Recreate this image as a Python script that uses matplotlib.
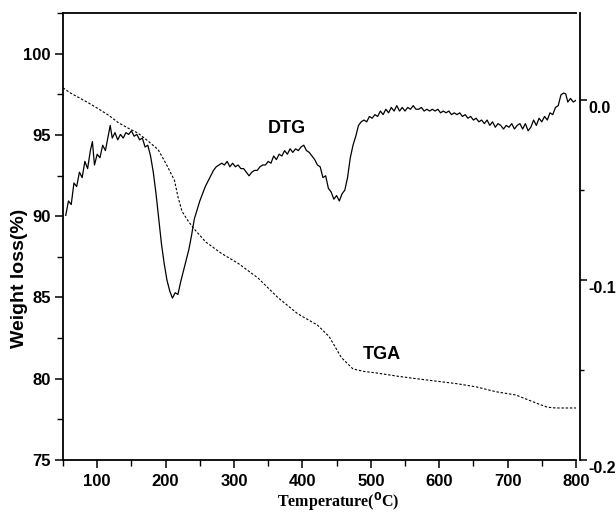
import numpy as np
import matplotlib.pyplot as plt
from matplotlib.ticker import MultipleLocator
from matplotlib.transforms import ScaledTranslation

# TGA curve (weight %)
tga_temp = [50, 60, 73, 88, 102, 117, 131, 146, 160, 175, 189, 201, 213, 218,
            224, 233, 242, 259, 282, 306, 335, 364, 393, 422, 439, 457, 474,
            490, 509, 540, 567, 596, 625, 654, 683, 712, 730, 745, 758, 770,
            785, 806]
tga_weight = [97.9, 97.6, 97.3, 96.95, 96.6, 96.2, 95.75, 95.4, 95.1, 94.6,
              94.1, 93.2, 92.2, 91.2, 90.3, 89.7, 89.2, 88.4, 87.7, 87.1,
              86.2, 85.0, 84.0, 83.3, 82.6, 81.3, 80.6, 80.45, 80.35, 80.15,
              80.0, 79.85, 79.7, 79.5, 79.2, 79.0, 78.7, 78.45, 78.25, 78.2,
              78.2, 78.2]

# DTG curve (right axis)
dtg_temp = [54, 58, 62, 66, 70, 74, 78, 82, 86, 90,
            93, 96, 100, 104, 108, 112, 116, 119, 122, 126,
            130, 134, 138, 142, 146, 150, 154, 158, 162, 166,
            170, 174, 178, 182, 186, 190, 194, 198, 202, 206,
            210, 214, 218, 222, 226, 230, 234, 238, 242, 246,
            250, 254, 258, 262, 266, 270, 274, 278, 282, 286,
            290, 294, 298, 302, 306, 310, 314, 318, 322, 326,
            330, 334, 338, 342, 346, 350, 354, 358, 362, 366,
            370, 374, 378, 382, 386, 390, 394, 398, 402, 406,
            410, 414, 418, 422, 426, 430, 434, 438, 442, 446,
            450, 454, 458, 462, 466, 470, 474, 478, 482, 486,
            490, 494, 498, 502, 506, 510, 514, 518, 522, 526,
            530, 534, 538, 542, 546, 550, 554, 558, 562, 566,
            570, 574, 578, 582, 586, 590, 594, 598, 602, 606,
            610, 614, 618, 622, 626, 630, 634, 638, 642, 646,
            650, 654, 658, 662, 666, 670, 674, 678, 682, 686,
            690, 694, 698, 702, 706, 710, 714, 718, 722, 726,
            730, 734, 738, 742, 746, 750, 754, 758, 762, 766,
            770, 774, 778, 782, 785, 788, 792, 796, 800, 804]
dtg_rate = [-0.064, -0.056, -0.058, -0.046, -0.048, -0.040, -0.043, -0.034, -0.038, -0.028,
            -0.023, -0.036, -0.030, -0.032, -0.025, -0.028, -0.020, -0.014, -0.021, -0.018,
            -0.022, -0.019, -0.021, -0.018, -0.019, -0.017, -0.020, -0.019, -0.022, -0.021,
            -0.026, -0.025, -0.031, -0.040, -0.052, -0.066, -0.080, -0.091, -0.100, -0.106,
            -0.110, -0.107, -0.108, -0.101, -0.095, -0.089, -0.083, -0.075, -0.066, -0.061,
            -0.056, -0.052, -0.048, -0.045, -0.042, -0.039, -0.037, -0.036, -0.035, -0.036,
            -0.034, -0.037, -0.035, -0.037, -0.036, -0.038, -0.038, -0.040, -0.042, -0.040,
            -0.039, -0.039, -0.037, -0.036, -0.036, -0.034, -0.035, -0.031, -0.033, -0.030,
            -0.031, -0.028, -0.030, -0.027, -0.029, -0.027, -0.028, -0.026, -0.025, -0.028,
            -0.029, -0.031, -0.033, -0.036, -0.037, -0.043, -0.042, -0.049, -0.051, -0.055,
            -0.053, -0.056, -0.052, -0.050, -0.043, -0.032, -0.025, -0.020, -0.014, -0.012,
            -0.011, -0.012, -0.009, -0.010, -0.008, -0.009, -0.006, -0.008, -0.005, -0.007,
            -0.004, -0.006, -0.003, -0.006, -0.004, -0.006, -0.004, -0.005, -0.003, -0.005,
            -0.005, -0.004, -0.006, -0.005, -0.006, -0.005, -0.006, -0.005, -0.007, -0.006,
            -0.007, -0.006, -0.008, -0.007, -0.008, -0.007, -0.009, -0.008, -0.010, -0.009,
            -0.011, -0.010, -0.012, -0.011, -0.013, -0.011, -0.014, -0.012, -0.015, -0.013,
            -0.014, -0.016, -0.014, -0.015, -0.013, -0.016, -0.014, -0.013, -0.016, -0.013,
            -0.017, -0.015, -0.011, -0.014, -0.010, -0.012, -0.009, -0.011, -0.007, -0.008,
            -0.004, -0.003, 0.003, 0.004, 0.0035, -0.001, 0.001, -0.001, 0.000, -0.001]

x_ticks = [100, 200, 300, 400, 500, 600, 700, 800]
left_ticks = [75, 80, 85, 90, 95, 100]
right_ticks = [-0.2, -0.1, 0.0]

plt.rcParams['font.family'] = ['Liberation Sans', 'DejaVu Sans']
plt.rcParams['font.weight'] = 'bold'

fig = plt.figure(figsize=(6.16, 5.13), dpi=100)
ax = fig.add_axes([63/616, 1-460/513, (576-63)/616, (460-13)/513])
ax2 = ax.twinx()

ax.plot(tga_temp, tga_weight, color='black', lw=0.8, linestyle=(0, (2.2, 1.6)))
ax2.plot(dtg_temp, dtg_rate, color='black', lw=0.9)

ax.set_xlim(50, 800)
ax.set_ylim(75, 102.5)
ax2.set_ylim(-0.2, 0.0485)

ax.set_xticks(x_ticks)
ax.set_yticks(left_ticks)
ax2.set_yticks(right_ticks)
ax2.set_yticklabels(['-0.2', '-0.1', '0.0'])
ax.xaxis.set_minor_locator(MultipleLocator(50))
ax.yaxis.set_minor_locator(MultipleLocator(2.5))
ax2.yaxis.set_minor_locator(MultipleLocator(0.05))

for s in ['top', 'bottom', 'left']:
    ax.spines[s].set_linewidth(1.3)
ax.spines['right'].set_visible(False)
ax2.spines['top'].set_visible(False)
ax2.spines['left'].set_visible(False)
ax2.spines['bottom'].set_visible(False)
ax2.spines['right'].set_linewidth(1.3)
ax2.spines['right'].set_position(('outward', 3))

ax.tick_params(axis='both', which='major', direction='out', length=6, width=1.1,
               labelsize=12, pad=3, top=False)
ax.tick_params(axis='both', which='minor', direction='out', length=4, width=1.0, top=False)
ax.tick_params(axis='x', pad=4)
ax2.tick_params(axis='y', which='major', direction='out', length=5, width=1.1,
                labelsize=11.5, pad=1)
ax2.tick_params(axis='y', which='minor', direction='out', length=3, width=1.0)

# right labels sit a little below their ticks
offset = ScaledTranslation(0, -5/72, fig.dpi_scale_trans)
for lbl in ax2.get_yticklabels():
    lbl.set_transform(lbl.get_transform() + offset)

ax.set_ylabel('Weight loss(%)', fontsize=14, fontweight='bold')
ax.yaxis.set_label_coords(-0.068, 0.407)
ax.set_xlabel(r'Temperature($^{\mathbf{0}}$C)', fontsize=11.5, fontweight='bold',
              family=['Liberation Serif', 'DejaVu Serif'])
ax.xaxis.set_label_coords(0.537, -0.067)

ax.text(377, 95.4, 'DTG', fontsize=13, fontweight='bold', ha='center', va='center')
ax.text(516, 81.5, 'TGA', fontsize=13, fontweight='bold', ha='center', va='center')

plt.savefig('out.png', dpi=100)
